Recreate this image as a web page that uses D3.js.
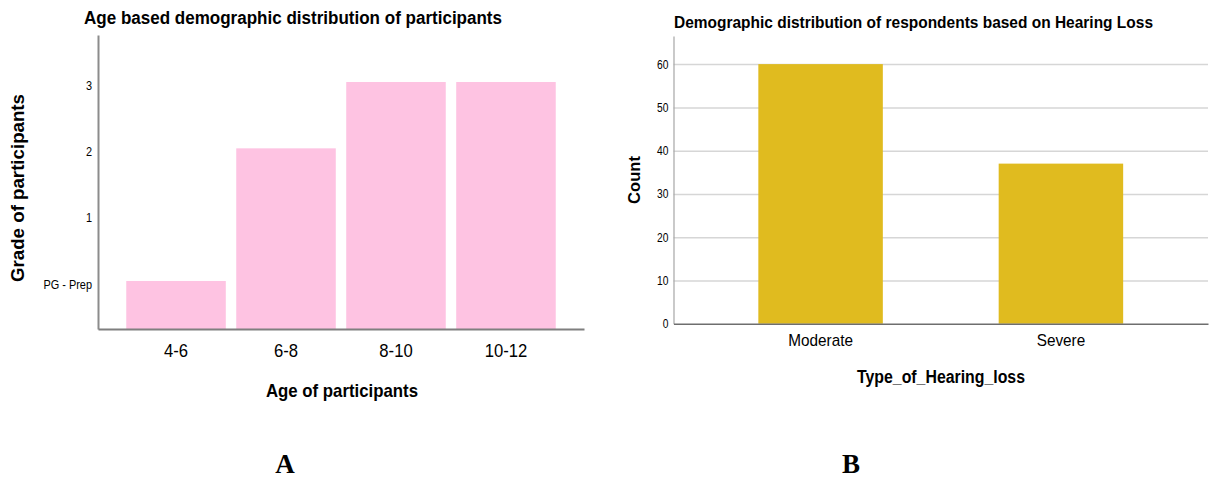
<!DOCTYPE html>
<html>
<head>
<meta charset="utf-8">
<script src="https://cdn.jsdelivr.net/npm/d3@7"></script>
<style>
  body { margin: 0; background: #fff; }
  text { font-family: "Liberation Sans", Arial, sans-serif; fill: #000; }
</style>
</head>
<body>
<svg id="mainFrame"></svg>
<script>
// data for chart A: grade reached per age group
const ageGroups = ['4-6', '6-8', '8-10', '10-12'];
const gradeLabels = ['PG - Prep', '1', '2', '3'];
const gradeByAge = ['PG - Prep', '2', '3', '3'];

// data for chart B: respondents per hearing loss type
const hearingTypes = ['Moderate', 'Severe'];
const hearingCounts = [60, 37];
const countTicks = [0, 10, 20, 30, 40, 50, 60];

const svg = d3.select('#mainFrame')
    .attr('width', 1209)
    .attr('height', 481);

svg.append('rect').attr('width', 1209).attr('height', 481).attr('fill', '#fff');

// squeeze a text node horizontally, the source charts use narrow lettering
const squeeze = (sel, factor) => sel.each(function () {
    const len = this.getComputedTextLength();
    d3.select(this).attr('textLength', len * factor).attr('lengthAdjust', 'spacingAndGlyphs');
});
const fitTo = (sel, width) => sel.attr('textLength', width).attr('lengthAdjust', 'spacingAndGlyphs');

/**
 * Chart A
 */
const a = svg.append('g').attr('id', 'chartA');

const xA = d3.scaleBand()
    .domain(ageGroups)
    .range([98, 584])
    .paddingInner(0.095)
    .paddingOuter(0.257);

const yA = d3.scaleLinear()
    .domain([-0.724, 3.709])
    .range([329, 35]);

a.selectAll('rect.bar').data(ageGroups)
    .join('rect')
    .attr('class', 'bar')
    .attr('x', d => xA(d))
    .attr('width', xA.bandwidth())
    .attr('y', (d, i) => yA(gradeLabels.indexOf(gradeByAge[i])))
    .attr('height', (d, i) => yA.range()[0] - yA(gradeLabels.indexOf(gradeByAge[i])))
    .attr('fill', '#fec3e2');

const yAxisA = a.append('g')
    .attr('transform', 'translate(98,0)')
    .call(d3.axisLeft(yA)
        .tickValues(d3.range(gradeLabels.length))
        .tickFormat(i => gradeLabels[i])
        .tickSize(0)
        .tickPadding(6));
yAxisA.select('.domain').attr('stroke', '#8c8c8c').attr('stroke-width', 2);
yAxisA.selectAll('text')
    .attr('font-size', 13)
    .attr('dy', '0.55em')
    .attr('fill', '#222')
    .call(squeeze, 0.84);

const xAxisA = a.append('g')
    .attr('transform', 'translate(0,329)')
    .call(d3.axisBottom(xA).tickSize(0).tickPadding(15));
xAxisA.select('.domain').attr('stroke', '#7f7f7f').attr('stroke-width', 2);
xAxisA.selectAll('text')
    .attr('font-size', 18.5)
    .attr('fill', '#333')
    .call(squeeze, 0.9);

a.append('text')
    .attr('x', 84).attr('y', 24)
    .attr('font-size', 18).attr('font-weight', 'bold')
    .text('Age based demographic distribution of participants')
    .call(fitTo, 418);

a.append('text')
    .attr('transform', 'translate(24,188) rotate(-90)')
    .attr('text-anchor', 'middle')
    .attr('font-size', 19).attr('font-weight', 'bold')
    .text('Grade of participants')
    .call(fitTo, 188);

a.append('text')
    .attr('x', 342).attr('y', 397)
    .attr('text-anchor', 'middle')
    .attr('font-size', 19).attr('font-weight', 'bold')
    .text('Age of participants')
    .call(fitTo, 152);

/**
 * Chart B
 */
const b = svg.append('g').attr('id', 'chartB');

const xB = d3.scaleBand()
    .domain(hearingTypes)
    .range([673.5, 1208])
    .paddingInner(0.482)
    .paddingOuter(0.353);

const yB = d3.scaleLinear()
    .domain([0, 66.5])
    .range([323.7, 36]);

// gridlines
b.append('g')
    .attr('transform', 'translate(673.5,0)')
    .call(d3.axisLeft(yB).tickValues(countTicks.slice(1)).tickSize(-(1208 - 673.5)).tickFormat(''))
    .call(g => g.select('.domain').remove())
    .call(g => g.selectAll('line').attr('stroke', '#d6d6d6').attr('stroke-width', 1.5));

b.selectAll('rect.bar').data(hearingTypes)
    .join('rect')
    .attr('class', 'bar')
    .attr('x', d => xB(d))
    .attr('width', xB.bandwidth())
    .attr('y', (d, i) => yB(hearingCounts[i]))
    .attr('height', (d, i) => yB(0) - yB(hearingCounts[i]))
    .attr('fill', '#e0bb1f');

const yAxisB = b.append('g')
    .attr('transform', 'translate(673.5,0)')
    .call(d3.axisLeft(yB).tickValues(countTicks).tickSize(0).tickPadding(5));
yAxisB.select('.domain').attr('stroke', '#a6a6a6').attr('stroke-width', 1.2);
yAxisB.selectAll('text')
    .attr('font-size', 12.5)
    .attr('fill', '#222')
    .call(squeeze, 0.82);

const xAxisB = b.append('g')
    .attr('transform', `translate(0,${yB(0)})`)
    .call(d3.axisBottom(xB).tickSize(0).tickPadding(10));
xAxisB.select('.domain').attr('stroke', '#6e6e6e').attr('stroke-width', 1.5);
xAxisB.selectAll('text')
    .attr('font-size', 17)
    .attr('fill', '#333')
    .call(squeeze, 0.9);

b.append('text')
    .attr('x', 674).attr('y', 28)
    .attr('font-size', 17).attr('font-weight', 'bold')
    .text('Demographic distribution of respondents based on Hearing Loss')
    .call(fitTo, 479);

b.append('text')
    .attr('transform', 'translate(640,180) rotate(-90)')
    .attr('text-anchor', 'middle')
    .attr('font-size', 17).attr('font-weight', 'bold')
    .text('Count')
    .call(fitTo, 48);

b.append('text')
    .attr('x', 941).attr('y', 383)
    .attr('text-anchor', 'middle')
    .attr('font-size', 18).attr('font-weight', 'bold')
    .text('Type_of_Hearing_loss')
    .call(fitTo, 168);

/**
 * Panel letters
 */
svg.selectAll('text.panel').data(['A', 'B'])
    .join('text')
    .attr('class', 'panel')
    .attr('x', (d, i) => [285, 851][i])
    .attr('y', 473)
    .attr('text-anchor', 'middle')
    .style('font-family', '"Liberation Serif", "Times New Roman", serif')
    .attr('font-size', 27).attr('font-weight', 'bold')
    .text(d => d);
</script>
</body>
</html>
